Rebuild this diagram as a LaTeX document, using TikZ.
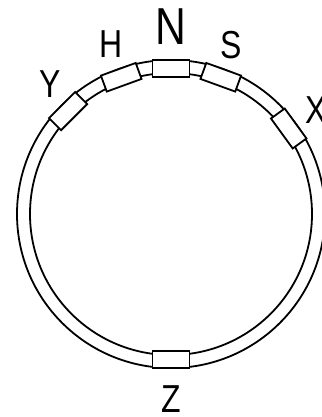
\documentclass[tikz,border=0pt]{standalone}
\usepackage{fontspec}
\newfontfamily\markfont[FakeStretch=0.82]{Liberation Sans}
\begin{document}
\begin{tikzpicture}[x=1pt,y=1pt,line width=1.8pt,
  slot/.style={rectangle, draw, fill=white, minimum width=37pt, minimum height=17pt, inner sep=0pt},
  letter/.style={font=\markfont\fontsize{39}{39}\selectfont, inner sep=0pt}]
\useasboundingbox (-171,-203) rectangle (150,214);
% the ring
\draw (0,0) circle [radius=154];
\draw (0,0) circle [radius=141];
% the boxes on it
\node[slot] (sN) at (90:145.5) {};
\node[slot, rotate=20] (sH) at (110:145.5) {};
\node[slot, rotate=-20] (sS) at (70:145.5) {};
\node[slot, rotate=45] (sY) at (135:145.5) {};
\node[slot, rotate=-54] (sX) at (36:145.5) {};
\node[slot] (sZ) at (270:145.5) {};
% the letters
\node[letter, font=\markfont\fontsize{52}{52}\selectfont] (lN) at (90:187) {N};
\node[letter] (lH) at (109.5:180) {H};
\node[letter] (lS) at (70.5:179) {S};
\node[letter] (lY) at (133:177) {Y};
\node[letter] (lX) at (35.6:178) {X};
\node[letter] (lZ) at (270:185) {Z};
\end{tikzpicture}
\end{document}
